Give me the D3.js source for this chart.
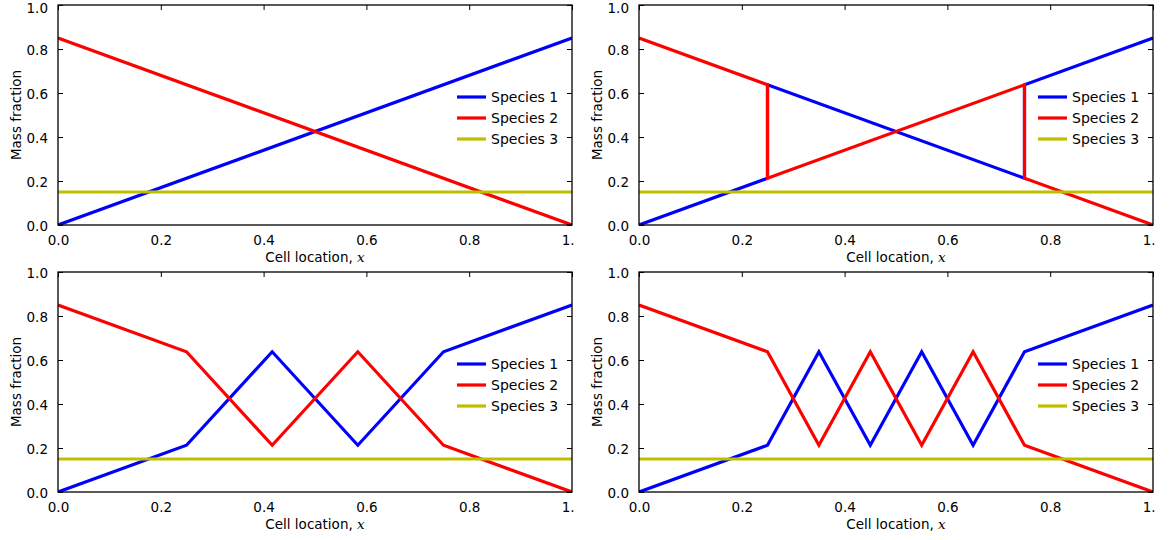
<!DOCTYPE html>
<html><head><meta charset="utf-8">
<script src="https://cdn.jsdelivr.net/npm/d3@7/dist/d3.min.js"></script>
<style>body{margin:0;background:#fff}svg{display:block}text{font-family:"DejaVu Sans",sans-serif;fill:#000}</style>
</head><body>
<svg id="c" width="1175" height="540"></svg>
<script>
const seriesNames = ["Species 1", "Species 2", "Species 3"];
const seriesColors = ["#0000ff", "#ff0000", "#bfbf00"];
const xTicks = [0, 0.2, 0.4, 0.6, 0.8, 1.0];
const yTicks = [0, 0.2, 0.4, 0.6, 0.8, 1.0];

// panel 1 (top-left)
const p1x1 = [0, 1], p1y1 = [0, 0.85];
const p1x2 = [0, 1], p1y2 = [0.85, 0];
// panel 2 (top-right)
const p2x1 = [0, 0.25, 0.25, 0.75, 0.75, 1], p2y1 = [0, 0.2125, 0.6375, 0.2125, 0.6375, 0.85];
const p2x2 = [0, 0.25, 0.25, 0.75, 0.75, 1], p2y2 = [0.85, 0.6375, 0.2125, 0.6375, 0.2125, 0];
// panel 3 (bottom-left)
const p3x1 = [0, 0.25, 0.4167, 0.5833, 0.75, 1], p3y1 = [0, 0.2125, 0.6375, 0.2125, 0.6375, 0.85];
const p3x2 = [0, 0.25, 0.4167, 0.5833, 0.75, 1], p3y2 = [0.85, 0.6375, 0.2125, 0.6375, 0.2125, 0];
// panel 4 (bottom-right)
const p4x1 = [0, 0.25, 0.35, 0.45, 0.55, 0.65, 0.75, 1], p4y1 = [0, 0.2125, 0.6375, 0.2125, 0.6375, 0.2125, 0.6375, 0.85];
const p4x2 = [0, 0.25, 0.35, 0.45, 0.55, 0.65, 0.75, 1], p4y2 = [0.85, 0.6375, 0.2125, 0.6375, 0.2125, 0.6375, 0.2125, 0];
const species3 = 0.15;

const panels = [
  {left: 58, top: 5, s1: [p1x1, p1y1], s2: [p1x2, p1y2], clipR: 575},
  {left: 639, top: 5, s1: [p2x1, p2y1], s2: [p2x2, p2y2], clipR: 1156},
  {left: 58, top: 272, s1: [p3x1, p3y1], s2: [p3x2, p3y2], clipR: 575},
  {left: 639, top: 272, s1: [p4x1, p4y1], s2: [p4x2, p4y2], clipR: 1156}
];
const W = 514, H = 220;
const svg = d3.select("#c");
const defs = svg.append("defs");

panels.forEach((p, i) => {
  const g = svg.append("g").attr("transform", `translate(${p.left},${p.top})`);
  const x = d3.scaleLinear().domain([0, 1]).range([0, W]);
  const y = d3.scaleLinear().domain([0, 1]).range([H, 0]);

  defs.append("clipPath").attr("id", "pc" + i).append("rect")
    .attr("x", 0).attr("y", 0).attr("width", W).attr("height", H);
  defs.append("clipPath").attr("id", "tc" + i).append("rect")
    .attr("x", -60).attr("y", 0).attr("width", p.clipR - p.left + 60).attr("height", 300);

  const line = d3.line().x(d => x(d[0])).y(d => y(d[1]));
  const plot = g.append("g").attr("clip-path", `url(#pc${i})`);
  const s1 = p.s1[0].map((v, k) => [v, p.s1[1][k]]);
  const s2 = p.s2[0].map((v, k) => [v, p.s2[1][k]]);
  const s3 = [[0, species3], [1, species3]];
  [s1, s2, s3].forEach((d, k) => {
    plot.append("path").datum(d).attr("d", line).attr("fill", "none")
      .attr("stroke", seriesColors[k]).attr("stroke-width", 3.2).attr("stroke-linejoin", "miter");
  });

  // axes with inward ticks
  const fmt = d3.format(".1f");
  const gx = g.append("g").attr("transform", `translate(0,${H})`).attr("clip-path", `url(#tc${i})`)
    .call(d3.axisBottom(x).tickValues(xTicks).tickFormat(fmt).tickSizeInner(-5).tickSizeOuter(0).tickPadding(10));
  const gy = g.append("g")
    .call(d3.axisLeft(y).tickValues(yTicks).tickFormat(fmt).tickSizeInner(-5).tickSizeOuter(0).tickPadding(10));
  const gt = g.append("g").call(d3.axisTop(x).tickValues(xTicks).tickFormat("").tickSizeInner(-5).tickSizeOuter(0));
  const gr = g.append("g").attr("transform", `translate(${W},0)`)
    .call(d3.axisRight(y).tickValues(yTicks).tickFormat("").tickSizeInner(-5).tickSizeOuter(0));
  [gx, gy, gt, gr].forEach(a => {
    a.select(".domain").remove();
    a.selectAll("line").attr("stroke", "#000").attr("stroke-width", 1);
    a.selectAll("text").attr("font-size", 13.5).attr("font-family", "DejaVu Sans").attr("fill", "#000");
  });
  gx.selectAll("text").attr("dy", "0.71em");
  gy.selectAll("text").attr("dy", d => d === 1 && p.top < 10 ? "0.58em" : "0.42em");
  g.append("rect").attr("width", W).attr("height", H).attr("fill", "none")
    .attr("stroke", "#000").attr("stroke-width", 1.3);

  // axis labels
  const xl = g.append("text").attr("x", W / 2).attr("y", H + 37).attr("text-anchor", "middle")
    .attr("font-size", 13.5);
  xl.append("tspan").text("Cell location, ");
  xl.append("tspan").attr("font-style", "italic").attr("font-family", "DejaVu Serif").text("x");
  g.append("text").attr("transform", `translate(-37,${H / 2}) rotate(-90)`)
    .attr("text-anchor", "middle").attr("font-size", 13.5).text("Mass fraction");

  // legend
  const lg = g.append("g").attr("transform", `translate(${W - 115},${92})`);
  seriesNames.forEach((n, k) => {
    const row = lg.append("g").attr("transform", `translate(0,${k * 21})`);
    row.append("line").attr("x1", 0).attr("x2", 29).attr("y1", 0).attr("y2", 0)
      .attr("stroke", seriesColors[k]).attr("stroke-width", 3.2);
    row.append("text").attr("x", 34).attr("y", 0).attr("dy", "0.35em").attr("font-size", 14).text(n);
  });
});
</script>
</body></html>
